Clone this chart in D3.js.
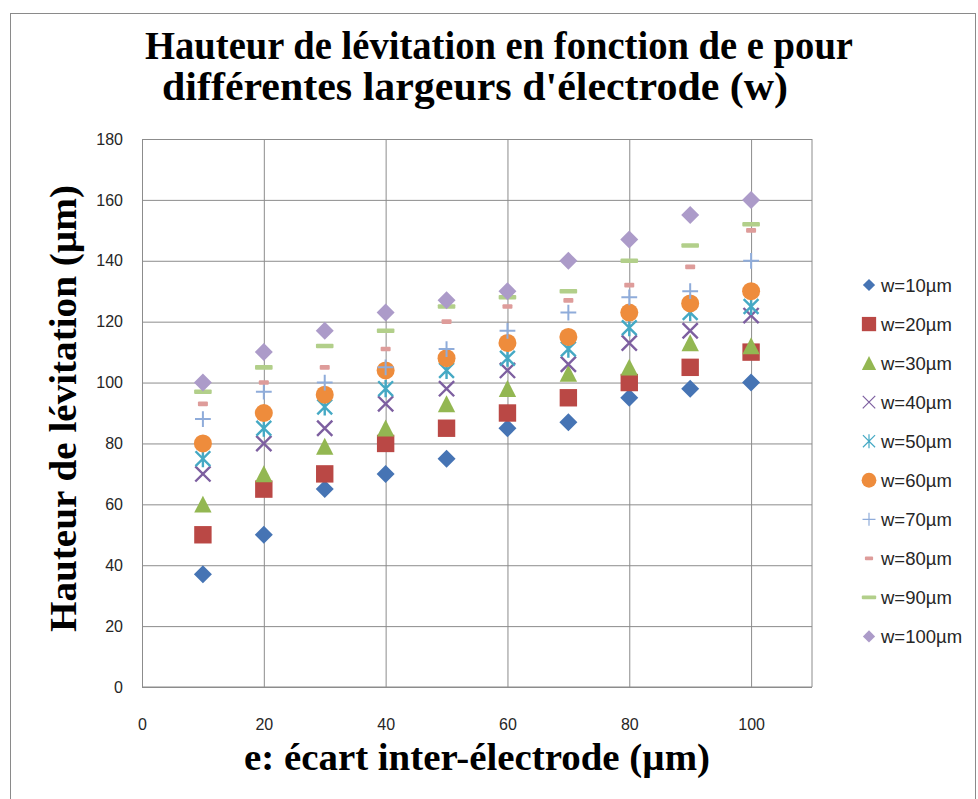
<!DOCTYPE html>
<html>
<head>
<meta charset="utf-8">
<script src="https://cdn.jsdelivr.net/npm/d3@7"></script>
<style>
  html, body { margin: 0; padding: 0; background: #fff; }
  svg { display: block; }
</style>
</head>
<body>
<svg id="chart" width="978" height="799"></svg>
<script>
// Inter-electrode gap e (µm)
const categories = [10, 20, 30, 40, 50, 60, 70, 80, 90, 100];

// Levitation height (µm) for each electrode width w
const w10  = [37, 50, 65, 70, 75, 85, 87, 95, 98, 100];
const w20  = [50, 65, 70, 80, 85, 90, 95, 100, 105, 110];
const w30  = [60, 70, 79, 85, 93, 98, 103, 105, 113, 112];
const w40  = [70, 80, 85, 93, 98, 104, 106, 113, 117, 122];
const w50  = [75, 85, 92, 98, 104, 108, 111, 118, 123, 125];
const w60  = [80, 90, 96, 104, 108, 113, 115, 123, 126, 130];
const w70  = [88, 97, 100, 105, 111, 117, 123, 128, 130, 140];
const w80  = [93, 100, 105, 111, 120, 125, 127, 132, 138, 150];
const w90  = [97, 105, 112, 117, 125, 128, 130, 140, 145, 152];
const w100 = [100, 110, 117, 123, 127, 130, 140, 147, 155, 160];

const seriesNames = ["w=10µm", "w=20µm", "w=30µm", "w=40µm", "w=50µm",
                     "w=60µm", "w=70µm", "w=80µm", "w=90µm", "w=100µm"];
const seriesValues = [w10, w20, w30, w40, w50, w60, w70, w80, w90, w100];

const xTicks = [0, 20, 40, 60, 80, 100];
const yTicks = [0, 20, 40, 60, 80, 100, 120, 140, 160, 180];

const titleLines = ["Hauteur de lévitation en fonction de e pour",
                    "différentes largeurs d'électrode (w)"];
const xTitle = "e: écart inter-électrode (µm)";
const yTitle = "Hauteur de lévitation (µm)";

// Marker style per series
const markerStyles = [
  { shape: "diamond",  color: "#4674B4" },
  { shape: "square",   color: "#BA4845" },
  { shape: "triangle", color: "#93B752" },
  { shape: "cross",    color: "#7D5FA0" },
  { shape: "star",     color: "#45A9C4" },
  { shape: "circle",   color: "#EE8C3C" },
  { shape: "plus",     color: "#8FACDA" },
  { shape: "dashS",    color: "#DE9C9A" },
  { shape: "dashL",    color: "#B2CF8A" },
  { shape: "diamond",  color: "#AC9BC9" }
];

const svg = d3.select("#chart");

// Chart frame
svg.append("rect")
  .attr("x", 10.5).attr("y", 13.5)
  .attr("width", 965).attr("height", 800)
  .attr("fill", "#fff")
  .attr("stroke", "#8a8a8a").attr("stroke-width", 1);

const plot = { left: 142, right: 812, top: 139, bottom: 687 };
const x = d3.scaleLinear().domain([0, 110]).range([plot.left, plot.right]);
const y = d3.scaleLinear().domain([0, 180]).range([plot.bottom, plot.top]);

const gridColor = "#8c8c8c";
const tickFont = "'Liberation Sans', Arial, sans-serif";

// Horizontal gridlines + y tick labels
const yAxis = svg.append("g")
  .attr("transform", `translate(${plot.left},0)`)
  .call(d3.axisLeft(y).tickValues(yTicks)
        .tickSize(-(plot.right - plot.left)).tickPadding(19));
yAxis.select(".domain").remove();
yAxis.selectAll(".tick line").attr("stroke", gridColor).attr("stroke-width", 1);
yAxis.selectAll(".tick text")
  .attr("font-family", tickFont).attr("font-size", 16).attr("fill", "#262626");

// Vertical gridlines + x tick labels
const xAxis = svg.append("g")
  .attr("transform", `translate(0,${plot.bottom})`)
  .call(d3.axisBottom(x).tickValues(xTicks)
        .tickSize(-(plot.bottom - plot.top)).tickPadding(32));
xAxis.select(".domain").remove();
xAxis.selectAll(".tick line").attr("stroke", gridColor).attr("stroke-width", 1);
xAxis.selectAll(".tick text")
  .attr("font-family", tickFont).attr("font-size", 16).attr("fill", "#262626");

// Plot-area right edge and bottom edge
svg.append("line")
  .attr("x1", x(110)).attr("x2", x(110))
  .attr("y1", y(180)).attr("y2", y(0))
  .attr("stroke", gridColor).attr("stroke-width", 1);
svg.append("line")
  .attr("x1", x(0)).attr("x2", x(110))
  .attr("y1", y(0)).attr("y2", y(0))
  .attr("stroke", gridColor).attr("stroke-width", 1);

// Draw one marker into a group centred at 0,0
function drawMarker(g, shape, color, s) {
  switch (shape) {
    case "diamond": {
      const r = 9 * s;
      g.append("path").attr("d", `M0,${-r}L${r},0L0,${r}L${-r},0Z`).attr("fill", color);
      break;
    }
    case "square": {
      const r = 8.7 * s;
      g.append("rect").attr("x", -r).attr("y", -r).attr("width", 2 * r).attr("height", 2 * r)
        .attr("fill", color);
      break;
    }
    case "triangle": {
      const r = 8.7 * s;
      g.append("path").attr("d", `M0,${-r}L${r},${r * 0.95}L${-r},${r * 0.95}Z`).attr("fill", color);
      break;
    }
    case "circle":
      g.append("circle").attr("r", 9 * s).attr("fill", color);
      break;
    case "cross": {
      const r = 7.6 * s;
      g.append("path").attr("d", `M${-r},${-r}L${r},${r}M${r},${-r}L${-r},${r}`)
        .attr("stroke", color).attr("stroke-width", s < 1 ? 1.2 : 2.4).attr("fill", "none");
      break;
    }
    case "star": {
      const r = 7.4 * s, v = 8.6 * s;
      g.append("path").attr("d", `M${-r},${-r}L${r},${r}M${r},${-r}L${-r},${r}M0,${-v}L0,${v}`)
        .attr("stroke", color).attr("stroke-width", s < 1 ? 1.2 : 2.4).attr("fill", "none");
      break;
    }
    case "plus": {
      const r = 7.9 * s;
      g.append("path").attr("d", `M${-r},0L${r},0M0,${-r}L0,${r}`)
        .attr("stroke", color).attr("stroke-width", s < 1 ? 1.2 : 2).attr("fill", "none");
      break;
    }
    case "dashS": {
      const hw = 5 * s, hh = 2.3 * s;
      g.append("rect").attr("x", -hw).attr("y", -hh).attr("width", 2 * hw).attr("height", 2 * hh)
        .attr("rx", 1).attr("fill", color);
      break;
    }
    case "dashL": {
      const hw = 8.8 * s, hh = 2.3 * s;
      g.append("rect").attr("x", -hw).attr("y", -hh).attr("width", 2 * hw).attr("height", 2 * hh)
        .attr("rx", 1).attr("fill", color);
      break;
    }
  }
}

// Scatter markers
seriesValues.forEach((vals, i) => {
  const st = markerStyles[i];
  const sg = svg.append("g").attr("class", "series");
  vals.forEach((v, j) => {
    const g = sg.append("g").attr("transform", `translate(${x(categories[j])},${y(v)})`);
    drawMarker(g, st.shape, st.color, 1);
  });
});

// Legend
const legend = svg.append("g");
const legendTop = 285, legendStep = 39.05;
seriesNames.forEach((name, i) => {
  const st = markerStyles[i];
  const row = legend.append("g").attr("transform", `translate(869,${legendTop + i * legendStep})`);
  drawMarker(row, st.shape, st.color, i === 0 || i === 9 ? 0.68 : 0.82);
  row.append("text")
    .attr("x", 12).attr("y", 6.5)
    .attr("font-family", tickFont).attr("font-size", 18.5).attr("fill", "#262626")
    .text(name);
});

// Titles: bold condensed serif
const serif = "'Liberation Serif', 'Times New Roman', serif";
function fitText(sel, len) {
  sel.attr("textLength", len).attr("lengthAdjust", "spacingAndGlyphs");
}
svg.append("text").attr("x", 145).attr("y", 59)
  .attr("font-family", serif).attr("font-weight", "bold").attr("font-size", 40)
  .attr("fill", "#000").text(titleLines[0]).call(fitText, 708);
svg.append("text").attr("x", 162).attr("y", 100)
  .attr("font-family", serif).attr("font-weight", "bold").attr("font-size", 40)
  .attr("fill", "#000").text(titleLines[1]).call(fitText, 626);

svg.append("text").attr("x", 244).attr("y", 770)
  .attr("font-family", serif).attr("font-weight", "bold").attr("font-size", 38)
  .attr("fill", "#000").text(xTitle).call(fitText, 466);

svg.append("text")
  .attr("transform", "translate(76,632) rotate(-90)")
  .attr("x", 0).attr("y", 0)
  .attr("font-family", serif).attr("font-weight", "bold").attr("font-size", 38)
  .attr("fill", "#000").text(yTitle).call(fitText, 447);
</script>
</body>
</html>
